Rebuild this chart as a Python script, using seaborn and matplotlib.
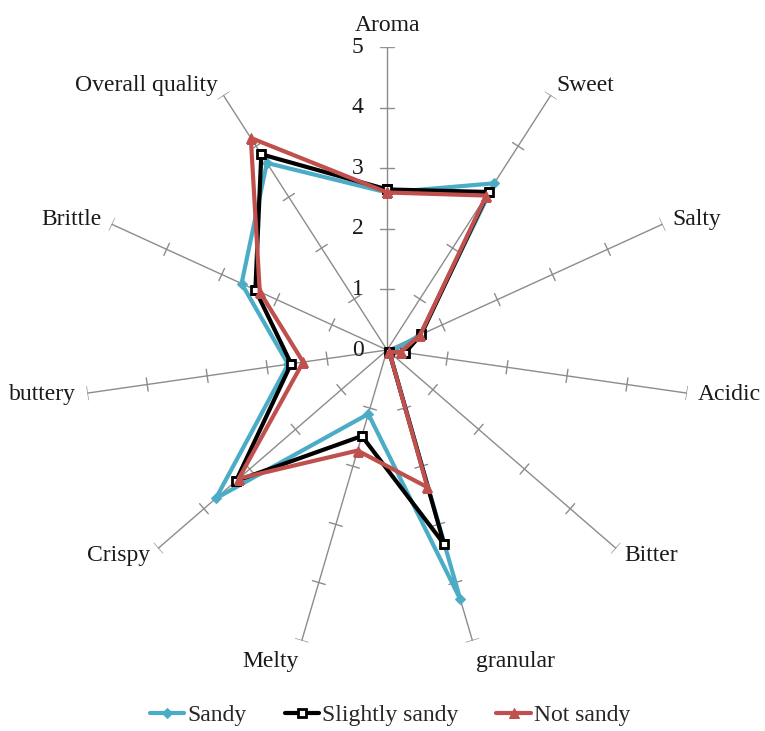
import numpy as np
import pandas as pd
import seaborn as sns
import matplotlib.pyplot as plt

# Sensory attributes (clockwise from the top)
categories = ["Aroma", "Sweet", "Salty", "Acidic", "Bitter", "granular",
              "Melty", "Crispy", "buttery", "Brittle", "Overall quality"]
sandy = [2.6, 3.27, 0.6, 0.1, 0.05, 4.29, 1.1, 3.74, 1.65, 2.64, 3.67]
slightly_sandy = [2.65, 3.1, 0.62, 0.3, 0.05, 3.34, 1.48, 3.3, 1.6, 2.39, 3.84]
not_sandy = [2.6, 3.03, 0.6, 0.23, 0.05, 2.36, 1.73, 3.24, 1.4, 2.31, 4.16]
series_names = ["Sandy", "Slightly sandy", "Not sandy"]
radial_ticks = [0, 1, 2, 3, 4, 5]

sns.set_theme(style="white")
plt.rcParams["font.family"] = ["Liberation Serif", "DejaVu Serif"]
FS = 17

n = len(categories)
theta = 2 * np.pi * np.arange(n) / n

fig = plt.figure(figsize=(7.65, 7.31), dpi=100)
ax = fig.add_axes([0.110, 0.1067, 0.792, 0.829], projection="polar")
ax.set_theta_offset(np.pi / 2)
ax.set_theta_direction(-1)
ax.set_ylim(0, 5)
ax.grid(False)
ax.set_xticks([])
ax.set_yticks([])
ax.spines["polar"].set_visible(False)
ax.patch.set_alpha(0)

# spokes with cross ticks
spoke_col = "#8c8c8c"
h = 0.11
for t in theta:
    ax.plot([t, t], [0, 5], color=spoke_col, lw=1, zorder=1)
    for r in radial_ticks[1:]:
        dt = np.arctan(h / r)
        rr = np.hypot(r, h)
        ax.plot([t - dt, t + dt], [rr, rr], color=spoke_col, lw=1, zorder=1)

# radial value labels on the Aroma spoke
for r in radial_ticks:
    ax.annotate(str(r), xy=(0, r), xytext=(-21, 0), textcoords="offset points",
                ha="center", va="center", fontsize=FS, color="#1a1a1a")

# category labels
for t, lab in zip(theta, categories):
    ang = np.pi / 2 - t
    c, s = np.cos(ang), np.sin(ang)
    ha = "left" if c > 0.1 else ("right" if c < -0.1 else "center")
    va = "bottom" if s > 0.9 else ("top" if s < -0.9 else "center")
    ax.text(t, 5.18, lab, ha=ha, va=va, fontsize=FS, color="#1a1a1a")

# series
styles = {
    "Sandy": dict(color="#4bacc6", marker="D", markersize=5.5,
                  markerfacecolor="#4bacc6", markeredgecolor="#4bacc6"),
    "Slightly sandy": dict(color="black", marker="s", markersize=5.5,
                           markerfacecolor="white", markeredgecolor="black",
                           markeredgewidth=2),
    "Not sandy": dict(color="#c0504d", marker="^", markersize=6.5,
                      markerfacecolor="#c0504d", markeredgecolor="#c0504d"),
}
values = {"Sandy": sandy, "Slightly sandy": slightly_sandy, "Not sandy": not_sandy}

for name in series_names:
    v = values[name]
    df = pd.DataFrame({"theta": np.append(theta, 2 * np.pi),
                       "value": np.append(v, v[0])})
    sns.lineplot(data=df, x="theta", y="value", sort=False, estimator=None,
                 ax=ax, lw=3, label=name, zorder=3, **styles[name])

ax.set_xlabel("")
ax.set_ylabel("")
handles, labels = ax.get_legend_handles_labels()
ax.get_legend().remove()
fig.legend(handles, labels, loc="lower center", bbox_to_anchor=(0.51, -0.022),
           ncol=3, frameon=False, fontsize=FS, handlelength=1.45,
           handletextpad=0.15, columnspacing=1.6)

fig.savefig("out.png", dpi=100)
